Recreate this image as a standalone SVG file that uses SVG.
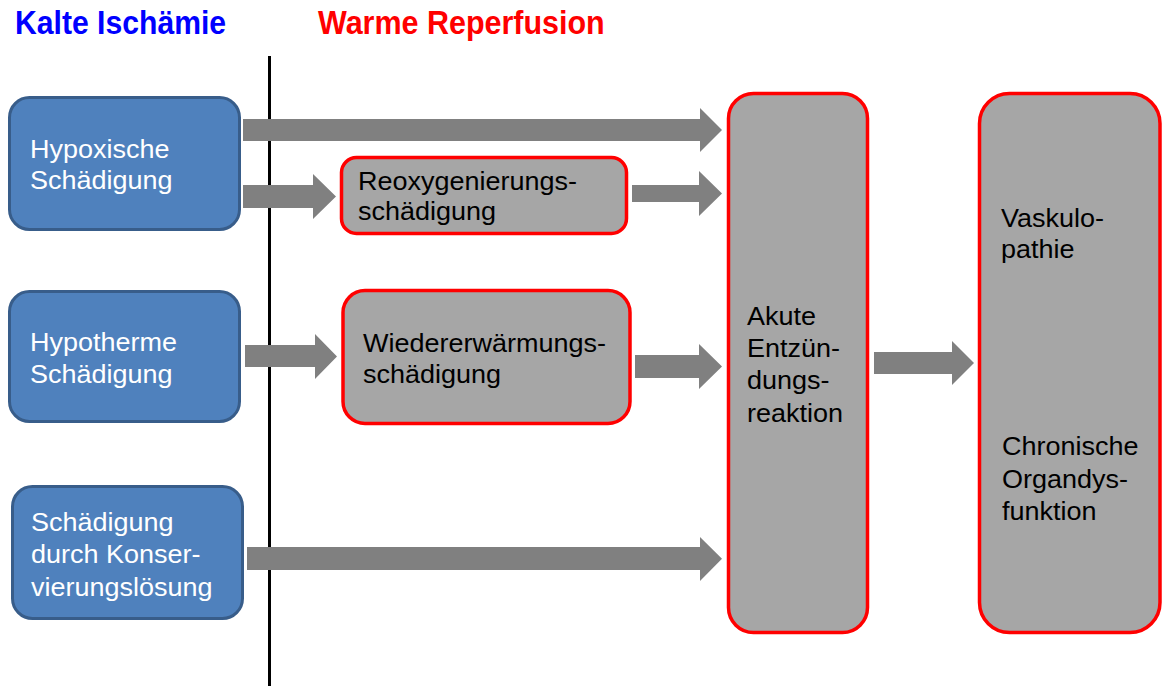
<svg xmlns="http://www.w3.org/2000/svg" width="1162" height="686" viewBox="0 0 1162 686">
<style>
.blue{fill:#4F81BD;stroke:#385D8A;stroke-width:3}
.gray{fill:#A6A6A6;stroke:#FF0000;stroke-width:3.5}
.t{font-family:"Liberation Sans",Arial,sans-serif;font-size:25px}
.w{fill:#FFFFFF}
.k{fill:#000000}
.title{font-family:"Liberation Sans",Arial,sans-serif;font-size:33.5px;font-weight:bold}
.arr{fill:#808080}
</style>
<rect width="1162" height="686" fill="#FFFFFF"/>
<g id="titles">
<text class="title" fill="#0000FF" transform="translate(15 34) scale(0.9 1)">Kalte Ischämie</text>
<text class="title" fill="#FF0000" transform="translate(318 34) scale(0.91 1)">Warme Reperfusion</text>
</g>
<line id="divider" x1="269.5" y1="56" x2="269.5" y2="686" stroke="#000000" stroke-width="3"/>
<g id="connectors">
<polygon class="arr" points="243,119 700,119 700,108 722,130 700,152 700,141 243,141"/>
<polygon class="arr" points="243,185 313,185 313,174 336,196.5 313,219 313,208 243,208"/>
<polygon class="arr" points="632,185 699,185 699,171 722,193.5 699,216 699,202 632,202"/>
<polygon class="arr" points="245,345 315,345 315,334 337,356.5 315,379 315,367 245,367"/>
<polygon class="arr" points="635,355 699,355 699,344 722,366.5 699,389 699,378 635,378"/>
<polygon class="arr" points="874,352 952,352 952,341 974,363 952,385 952,374 874,374"/>
<polygon class="arr" points="247,547 700,547 700,537 722,558.7 700,581 700,570 247,570"/>
</g>
<g id="hypoxisch">
<rect class="blue" x="9.5" y="97.5" width="230" height="132" rx="20"/>
<text class="t w" transform="translate(30 158) scale(1.08 1)"><tspan x="0" y="0">Hypoxische</tspan><tspan x="0" y="31">Schädigung</tspan></text>
</g>
<g id="hypotherm">
<rect class="blue" x="9.5" y="291.5" width="230" height="130" rx="20"/>
<text class="t w" transform="translate(30 351) scale(1.08 1)"><tspan x="0" y="0">Hypotherme</tspan><tspan x="0" y="32">Schädigung</tspan></text>
</g>
<g id="konservierung">
<rect class="blue" x="12.5" y="486.5" width="230" height="132" rx="20"/>
<text class="t w" transform="translate(31 531) scale(1.08 1)"><tspan x="0" y="0">Schädigung</tspan><tspan x="0" y="32">durch Konser-</tspan><tspan x="0" y="65">vierungslösung</tspan></text>
</g>
<g id="reoxygenierung">
<rect class="gray" x="341.5" y="157.5" width="285" height="76" rx="15"/>
<text class="t k" transform="translate(358 190) scale(1.08 1)"><tspan x="0" y="0">Reoxygenierungs-</tspan><tspan x="0" y="30">schädigung</tspan></text>
</g>
<g id="wiedererwaermung">
<rect class="gray" x="343" y="290.5" width="287" height="133" rx="22"/>
<text class="t k" transform="translate(363 351.5) scale(1.08 1)"><tspan x="0" y="0">Wiedererwärmungs-</tspan><tspan x="0" y="31.5">schädigung</tspan></text>
</g>
<g id="entzuendung">
<rect class="gray" x="728.5" y="93.5" width="139" height="539" rx="25"/>
<text class="t k" transform="translate(747 325) scale(1.08 1)"><tspan x="0" y="0">Akute</tspan><tspan x="0" y="32">Entzün-</tspan><tspan x="0" y="64">dungs-</tspan><tspan x="0" y="97">reaktion</tspan></text>
</g>
<g id="chronisch">
<rect class="gray" x="979.5" y="93.5" width="180.5" height="539" rx="30"/>
<text class="t k" transform="translate(1001 227) scale(1.08 1)"><tspan x="0" y="0">Vaskulo-</tspan><tspan x="0" y="31">pathie</tspan></text>
<text class="t k" transform="translate(1002 455) scale(1.08 1)"><tspan x="0" y="0">Chronische</tspan><tspan x="0" y="33">Organdys-</tspan><tspan x="0" y="65">funktion</tspan></text>
</g>
</svg>
